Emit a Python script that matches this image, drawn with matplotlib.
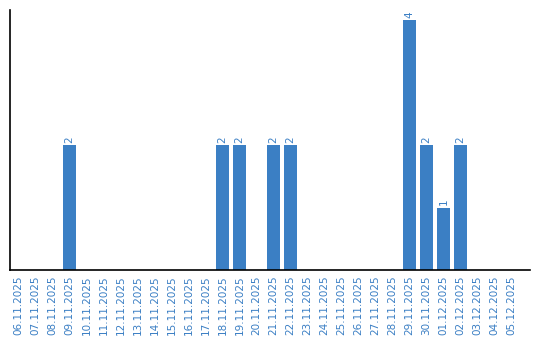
import matplotlib
matplotlib.use("Agg")
import matplotlib.pyplot as plt

dates = ["06.11.2025", "07.11.2025", "08.11.2025", "09.11.2025", "10.11.2025",
         "11.11.2025", "12.11.2025", "13.11.2025", "14.11.2025", "15.11.2025",
         "16.11.2025", "17.11.2025", "18.11.2025", "19.11.2025", "20.11.2025",
         "21.11.2025", "22.11.2025", "23.11.2025", "24.11.2025", "25.11.2025",
         "26.11.2025", "27.11.2025", "28.11.2025", "29.11.2025", "30.11.2025",
         "01.12.2025", "02.12.2025", "03.12.2025", "04.12.2025", "05.12.2025"]
values = [0, 0, 0, 2, 0, 0, 0, 0, 0, 0, 0, 0, 2, 2, 0, 2, 2, 0, 0, 0,
          0, 0, 0, 4, 2, 1, 2, 0, 0, 0]

blue = "#3b7fc4"

fig = plt.figure(figsize=(5.4, 3.4), dpi=100)
ax = fig.add_axes([10/540, 70/340, 520/540, 260/340])
x = list(range(len(dates)))
ax.bar(x, values, width=0.82, color=blue)
ax.set_xlim(-0.5, -0.5 + 520/17)
ax.set_ylim(0, 4.16)
ax.set_xticks(x)
ax.set_xticklabels(dates, rotation=90, color=blue, fontsize=7.5)
ax.tick_params(axis="x", length=0, pad=4)
ax.set_yticks([])
for s in ["top", "right"]:
    ax.spines[s].set_visible(False)
for s in ["left", "bottom"]:
    ax.spines[s].set_linewidth(1.2)
for xi, v in zip(x, values):
    if v > 0:
        ax.text(xi, v + 0.04, str(v), rotation=90, ha="center", va="bottom",
                color=blue, fontsize=7.5)
fig.savefig("out.png", dpi=100)
